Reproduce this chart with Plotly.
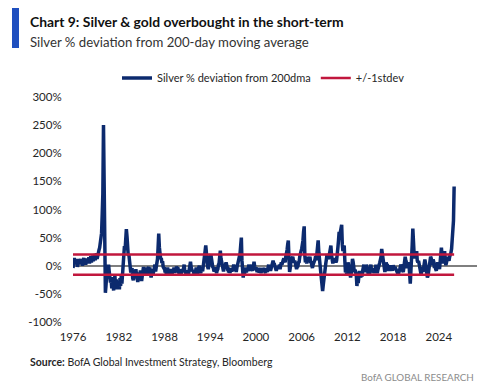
import plotly.graph_objects as go
import pandas as pd

# ---- data (monthly, % deviation of silver from 200dma) ----
yearly_values = {
    1976: [-4, 8, 14, 4, 12, 2, 10, -2, 6, 12, 3, 9],
    1977: [12, 2, 10, 0, 9, 14, 4, 11, 2, 10, 13, 5],
    1978: [11, 15, 4, 12, 17, 6, 14, 18, 8, 16, 21, 10],
    1979: [18, 22, 12, 20, 24, 28, 32, 40, 48, 58, 92, 128],
    1980: [250, 150, -20, -48, -35, -12, -2, -15, 2, -10, -22, -30],
    1981: [-25, -40, -20, -38, -44, -26, -18, -36, -24, -42, -30, -40],
    1982: [-28, -42, -22, -36, -18, -32, -8, 5, 22, 35, 28, 45],
    1983: [65, 52, 32, 18, 20, 4, 2, -12, -8, -4, -22, -26],
    1984: [-16, -8, -22, -6, -16, -24, -29, -18, -12, -26, -8, -20],
    1985: [-27, -18, -8, -2, -16, -6, -14, -3, -12, -16, -5, -2],
    1986: [-12, -3, -14, -21, -13, -6, -16, -8, -3, 2, -10, -4],
    1987: [2, 12, 32, 57, 33, 22, 12, 14, 5, 8, -2, -4],
    1988: [-3, -12, -6, -16, -8, -3, -14, -6, -16, -10, -6, -12],
    1989: [-14, -6, -12, -3, -13, -6, -12, -1, -10, -3, -12, -14],
    1990: [-6, -12, -16, -10, -6, -12, -3, 2, -10, -8, -17, -10],
    1991: [-17, -8, -14, -6, -3, 7, -2, -6, -10, -8, -14, -16],
    1992: [-8, -10, -3, -12, -14, -6, -3, 0, -10, -13, -8, -3],
    1993: [-10, -3, 6, 15, 26, 36, 18, 12, -2, -6, 7, 10],
    1994: [17, 20, 8, 6, -2, -4, -10, -8, -3, -10, -13, -8],
    1995: [-6, 2, 4, 16, 27, 13, 6, -2, -4, -10, -4, -2],
    1996: [2, 6, 0, -4, -3, -12, -6, -13, -8, -4, -10, -8],
    1997: [-3, 2, -6, -9, -1, -11, -4, 2, 4, 12, 14, 22],
    1998: [36, 50, 10, -6, -21, -8, -16, -6, -4, -12, -3, -9],
    1999: [-2, 2, -6, -9, -2, 2, -6, -9, -2, 7, -1, -6],
    2000: [-3, -9, -11, -4, -9, -12, -4, -9, -13, -8, -10, -4],
    2001: [-6, -9, -12, -13, -4, -10, -11, -4, 2, -6, -2, -9],
    2002: [-4, 2, 4, 9, 4, 3, -1, -6, -9, -4, -2, -6],
    2003: [-2, 2, -6, 1, 6, 2, 9, 10, 13, 7, 6, 16],
    2004: [20, 28, 38, 45, 14, -11, -4, 6, 8, 14, 16, 9],
    2005: [6, 9, 2, 1, -6, -2, -1, 6, 7, 16, 19, 26],
    2006: [30, 36, 44, 60, 70, 18, 6, 12, 4, 10, 16, 9],
    2007: [14, 16, 7, 6, 1, -4, 2, 4, 9, 11, 17, 10],
    2008: [22, 35, 45, 24, 12, 4, 2, -16, -30, -45, -34, -20],
    2009: [-8, 2, 4, 12, 21, 14, 12, 16, 26, 30, 36, 19],
    2010: [11, 4, 9, 11, 13, 9, 6, 9, 16, 32, 45, 60],
    2011: [54, 62, 64, 73, 38, 26, 32, 36, 8, -12, -4, -16],
    2012: [-8, 6, -1, -9, -16, -21, -14, -4, 12, 7, -6, -11],
    2013: [-7, -12, -16, -36, -24, -31, -18, -9, -16, -21, -13, -19],
    2014: [-9, -4, 2, -6, -11, -7, 2, -4, -11, -16, -11, -16],
    2015: [-4, 2, -9, -11, -4, -9, -13, -9, -7, 2, -11, -13],
    2016: [-7, -4, 2, 6, 11, 16, 30, 19, 11, 4, -6, -11],
    2017: [-2, 6, 2, 1, -9, -4, -9, -2, 1, -6, -4, -9],
    2018: [1, -4, -6, -2, -6, -9, -11, -13, -16, -9, -9, -4],
    2019: [2, -4, -6, -9, -11, -4, 7, 16, 9, 6, -4, 1],
    2020: [6, 2, -16, -32, -9, 6, 36, 66, 28, 21, 13, 22],
    2021: [14, 26, 9, 6, 9, 4, -6, -11, -16, -7, -2, -11],
    2022: [-4, 2, 11, 4, -11, -16, -21, -17, -9, 2, 11, 16],
    2023: [13, 2, 1, 11, 7, -4, 2, -6, -9, 2, 6, 2],
    2024: [1, -6, 11, 26, 32, 19, 13, 4, 16, 26, 9, 1],
    2025: [6, 11, 16, 11, 9, 16, 19, 23, 30, 50, 44, 80],
    2026: [141],
}
stdev_upper = 20
stdev_lower = -16
tick_years = [1976, 1982, 1988, 1994, 2000, 2006, 2012, 2018, 2024]
y_ticks = [-100, -50, 0, 50, 100, 150, 200, 250, 300]

dates, values = [], []
for yr, vals in yearly_values.items():
    for m, v in enumerate(vals):
        dates.append(pd.Timestamp(year=yr, month=m + 1, day=1))
        values.append(v)

W, H = 500, 389
L, R, T, B = 73, 23, 97, 67
PW, PH = W - L - R, H - T - B


def px(x):
    return (x - L) / PW


def py(y):
    return (H - B - y) / PH


NAVY = "#0c2a6e"
RED = "#c1173d"
FONT = "Lato"

fig = go.Figure()
fig.add_trace(go.Scatter(x=dates, y=values, mode="lines",
                         name="Silver % deviation from 200dma",
                         line=dict(color=NAVY, width=3.5)))
fig.add_trace(go.Scatter(x=[dates[0], dates[-1]], y=[stdev_upper, stdev_upper],
                         mode="lines", name="+/-1stdev",
                         line=dict(color=RED, width=2.5)))
fig.add_trace(go.Scatter(x=[dates[0], dates[-1]], y=[stdev_lower, stdev_lower],
                         mode="lines", name="+/-1stdev", showlegend=False,
                         line=dict(color=RED, width=2.5)))

fig.update_layout(
    width=W, height=H,
    margin=dict(l=L, r=R, t=T, b=B, autoexpand=False),
    paper_bgcolor="white", plot_bgcolor="white",
    font=dict(family=FONT, size=11, color="#262626"),
    showlegend=True,
    legend=dict(orientation="h", x=px(117), y=py(78), xanchor="left", yanchor="middle",
                font=dict(size=11, color="#262626"), itemwidth=30,
                bgcolor="rgba(0,0,0,0)"),
    xaxis=dict(type="date", range=["1976-01-01", "2029-01-01"],
               tickvals=[pd.Timestamp(year=y, month=1, day=1) for y in tick_years],
               ticktext=[str(y) for y in tick_years],
               showgrid=False, showline=False, zeroline=False,
               ticks="outside", ticklen=4, tickcolor="rgba(0,0,0,0)",
               tickfont=dict(size=11.5)),
    yaxis=dict(range=[-100, 300], tickvals=y_ticks,
               ticktext=[f"{v}%" for v in y_ticks],
               showgrid=False, showline=False,
               zeroline=True, zerolinecolor="#7f7f7f", zerolinewidth=1.5,
               ticks="outside", ticklen=8, tickcolor="rgba(0,0,0,0)",
               tickfont=dict(size=11.5)),
)

fig.add_shape(type="rect", xref="paper", yref="paper",
              x0=px(12), x1=px(19), y0=py(48), y1=py(8),
              fillcolor="#1f4fbf", line=dict(width=0))

anns = [
    dict(x=px(28), y=py(21), text="<b>Chart 9: Silver &amp; gold overbought in the short-term</b>",
         font=dict(size=13.9, color="#111111")),
    dict(x=px(28), y=py(42), text="Silver % deviation from 200-day moving average",
         font=dict(size=13.2, color="#333333")),
    dict(x=px(28), y=py(362), text="<b>Source:</b> BofA Global Investment Strategy, Bloomberg",
         font=dict(size=10.5, color="#262626")),
]
for a in anns:
    fig.add_annotation(xref="paper", yref="paper", xanchor="left", yanchor="middle",
                       showarrow=False, **a)
fig.add_annotation(xref="paper", yref="paper", x=px(476), y=py(377),
                   xanchor="right", yanchor="middle", showarrow=False,
                   text="BofA GLOBAL RESEARCH", font=dict(size=9.8, color="#8c8c8c"))

fig.write_html("out.html", config={"displayModeBar": False},
               post_script="document.body.style.margin='0';")
